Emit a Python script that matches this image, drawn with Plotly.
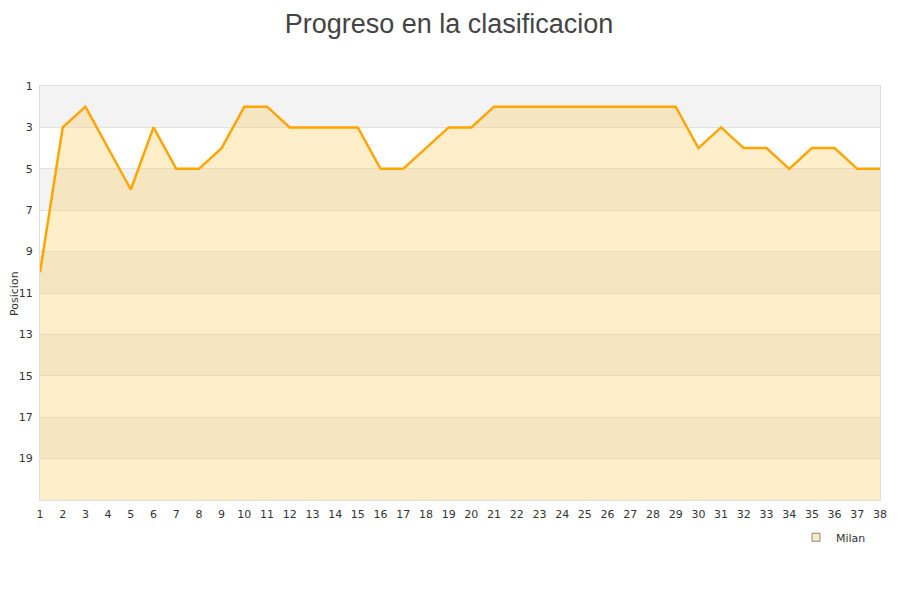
import plotly.graph_objects as go

jornadas = list(range(1, 39))
posiciones = [10, 3, 2, 4, 6, 3, 5, 5, 4, 2, 2, 3, 3, 3, 3, 5, 5, 4, 3, 3,
              2, 2, 2, 2, 2, 2, 2, 2, 2, 4, 3, 4, 4, 5, 4, 4, 5, 5]
equipo = "Milan"
y_ticks = [1, 3, 5, 7, 9, 11, 13, 15, 17, 19]
y_bottom = 21

fig = go.Figure()

# baseline for fill
fig.add_trace(go.Scatter(x=jornadas, y=[y_bottom] * len(jornadas), mode="lines",
                         line=dict(width=0, color="rgba(0,0,0,0)"),
                         showlegend=False, hoverinfo="skip"))
fig.add_trace(go.Scatter(x=jornadas, y=posiciones, mode="lines", name=equipo,
                         line=dict(color="#FFA500", width=2.5),
                         fill="tonexty", fillcolor="rgba(255,200,80,0.3)",
                         showlegend=False))
# legend marker
fig.add_trace(go.Scatter(x=[None], y=[None], mode="markers", name=equipo,
                         marker=dict(symbol="square", size=8, color="#fbe8c6",
                                     line=dict(color="#888", width=1))))

shapes = []
for i, lo in enumerate(range(1, y_bottom, 2)):
    color = "#f3f3f3" if i % 2 == 0 else "#ffffff"
    shapes.append(dict(type="rect", xref="paper", yref="y", x0=0, x1=1,
                       y0=lo, y1=lo + 2, fillcolor=color, line=dict(width=0),
                       layer="between"))
fig.update_layout(shapes=shapes)

fig.add_annotation(text="Posicion", xref="paper", yref="paper",
                   x=-0.031, y=0.5, xanchor="center", yanchor="middle",
                   textangle=-90, showarrow=False, borderpad=0,
                   font=dict(family="DejaVu Sans", size=11, color="#333"))

fig.update_layout(
    width=900, height=600,
    margin=dict(l=32, r=28, t=78, b=108, autoexpand=False),
    paper_bgcolor="white", plot_bgcolor="white",
    font=dict(family="DejaVu Sans", size=11, color="#333"),
    title=dict(text="Progreso en la clasificacion", x=0.49, xanchor="center",
               yref="container", y=0.99, yanchor="top",
               font=dict(family="Liberation Sans, Arial", size=27, color="#444")),
    legend=dict(x=0.9, y=-0.09, xanchor="left", yanchor="middle",
                font=dict(size=11, color="#333"), bgcolor="rgba(0,0,0,0)",
                itemwidth=30),
    showlegend=True,
)
fig.update_xaxes(range=[1, 38], tickmode="array", tickvals=jornadas,
                 ticktext=[str(j) for j in jornadas], showgrid=False,
                 zeroline=False, showline=True, linecolor="#ddd", mirror=True,
                 ticks="outside", ticklen=4, tickcolor="rgba(0,0,0,0)",
                 automargin=False, tickfont=dict(size=11, color="#333"))
fig.update_yaxes(range=[y_bottom, 1], tickmode="array", tickvals=y_ticks,
                 showgrid=True, gridcolor="#e2e2e2", zeroline=False,
                 showline=True, linecolor="#ddd", mirror=True,
                 ticks="outside", ticklen=4, tickcolor="rgba(0,0,0,0)",
                 automargin=False,
                 tickfont=dict(size=11, color="#333"))

fig.write_html("out.html")
